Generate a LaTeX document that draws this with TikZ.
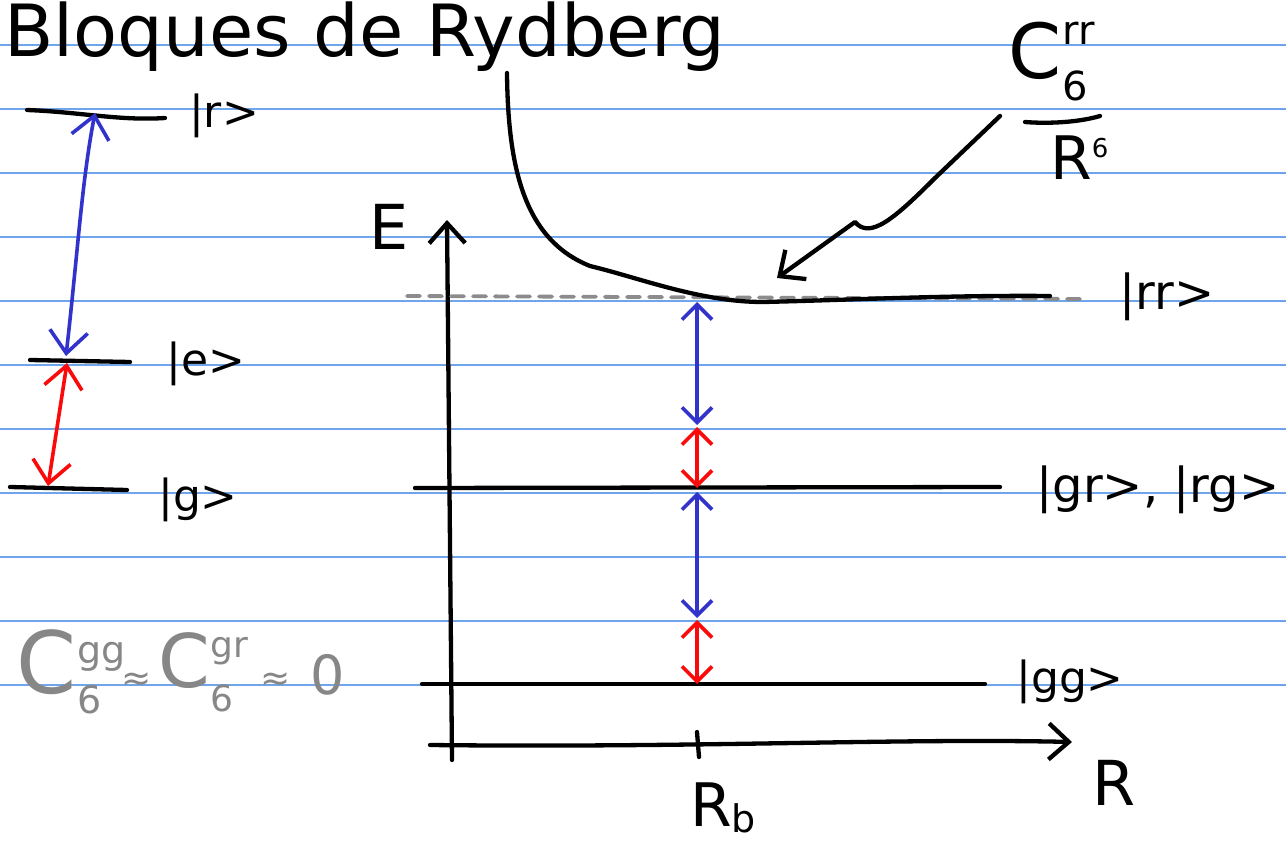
\documentclass[tikz,border=0pt]{standalone}
\usepackage{fontspec}
\setmainfont{DejaVu Sans}
\usetikzlibrary{arrows.meta}
\definecolor{rulecol}{RGB}{110,165,235}
\definecolor{penblue}{RGB}{50,50,205}
\definecolor{penred}{RGB}{250,10,10}
\definecolor{pengray}{RGB}{135,135,135}
\definecolor{dashgray}{RGB}{140,140,140}
\newcommand\hw[1]{\fontsize{#1}{#1}\selectfont}
% C with stacked superscript and subscript 6
\newcommand\Csix[5]{{\hw{#1}C}\kern1pt\rlap{\raisebox{#4}{\hw{#2}#3}}\raisebox{#5}{\hw{#2}6}}
\begin{document}
\begin{tikzpicture}[x=1pt,y=-1pt,
  ruling/.style={rulecol,line width=1.5pt},
  ink/.style={line width=4.3pt,line cap=round,line join=round},
  cblue/.style={penblue,line width=3.6pt,line cap=round,line join=round},
  cred/.style={penred,line width=3.6pt,line cap=round,line join=round},
  dbl/.style={arrows={Straight Barb[length=15pt,width=30pt]-Straight Barb[length=15pt,width=30pt]}},
  bigdbl/.style={arrows={Straight Barb[length=22pt,width=38pt]-Straight Barb[length=22pt,width=38pt]}},
  tipend/.style={arrows={-Straight Barb[length=20pt,width=36pt]}},
  txt/.style={inner sep=0pt,text=black},
  gtxt/.style={inner sep=0pt,text=pengray}
]
\useasboundingbox (0,0) rectangle (1286,845);
\fill[white] (0,0) rectangle (1286,845);
% notebook ruling
\foreach \yy in {45,109,173,237,301,365,429,493,557,621,685}
  \draw[ruling] (0,\yy) -- (1286,\yy);

% title
\node[txt,anchor=base west] (title) at (4,57) {\hw{72}Bloques de Rydberg};

% ---------- left: single-atom levels ----------
\coordinate (rL) at (27,110); \coordinate (rR) at (165,118);
\coordinate (eL) at (30,360); \coordinate (eR) at (130,362);
\coordinate (gL) at (10,487); \coordinate (gR) at (127,490);
\draw[ink] (rL) .. controls (80,112) and (120,121) .. (rR);
\draw[ink] (eL) -- (eR);
\draw[ink] (gL) -- (gR);
\coordinate (rTop) at (95,113);
\coordinate (eTop) at (66,356);
\coordinate (eBot) at (67,363);
\coordinate (gBot) at (48,486);
\draw[cblue,bigdbl] (eTop) .. controls (78,250) and (82,180) .. (rTop);
\draw[cred,bigdbl] (eBot) -- (gBot);
\node[txt] (lr) at (224,116) {\hw{44}|r>};
\node[txt] (le) at (206,364) {\hw{44}|e>};
\node[txt] (lg) at (198,500) {\hw{44}|g>};

% gray relation
\node[gtxt,anchor=west] (gc1) at (16,672) {\Csix{86}{38}{gg}{30pt}{-20pt}};
\node[gtxt] (gap1) at (137,682) {\hw{36}≈};
\node[gtxt,anchor=west] (gc2) at (158,672) {\Csix{74}{36}{gr}{30pt}{-24pt}};
\node[gtxt] (gap2) at (276,682) {\hw{36}≈};
\node[gtxt] (gzero) at (328,675) {\hw{54}0};

% ---------- right: two-atom energy diagram ----------
\coordinate (Ebot) at (452,760);
\coordinate (Etop) at (447,220);
\coordinate (Rleft) at (430,745);
\coordinate (Rright) at (1072,742);
\draw[ink,tipend] (Ebot) -- (Etop);
\draw[ink,tipend] (Rleft) .. controls (700,748) and (900,738) .. (Rright);
\coordinate (tk1) at (697,732); \coordinate (tk2) at (699,757);
\draw[ink] (tk1) -- (tk2);
\node[txt] (Elab) at (389,227) {\hw{62}E};
\node[txt] (Rlab) at (1114,783) {\hw{62}R};
\node[txt,anchor=base west] (Rblab) at (690,826) {\hw{60}R\raisebox{-6pt}{\hw{38}b}};

% levels
\coordinate (ggL) at (422,684); \coordinate (ggR) at (985,684);
\coordinate (grL) at (415,488); \coordinate (grR) at (1000,487);
\coordinate (rrL) at (407,296); \coordinate (rrR) at (1085,299);
\draw[ink] (ggL) -- (ggR);
\draw[ink] (grL) -- (grR);
\draw[dashgray,line width=3.8pt,dash pattern=on 13pt off 9pt,line cap=round] (rrL) -- (rrR);
\coordinate (cvA) at (507,73);
\coordinate (cvB) at (590,266);
\coordinate (cvC) at (763,302);
\coordinate (cvD) at (1050,296);
\draw[ink] (cvA) .. controls (508,170) and (525,240) .. (cvB)
  .. controls (640,278) and (700,302) .. (cvC)
  .. controls (850,300) and (950,295) .. (cvD);
\node[txt] (lrr) at (1167,297) {\hw{48}|rr>};
\node[txt] (lgr) at (1158,490) {\hw{48}|gr>, |rg>};
\node[txt] (lgg) at (1070,682) {\hw{44}|gg>};

% transitions at R_b
\coordinate (a1) at (697,302); \coordinate (a2) at (697,425);
\coordinate (a3) at (697,427); \coordinate (a4) at (697,488);
\coordinate (a5) at (697,492); \coordinate (a6) at (697,618);
\coordinate (a7) at (697,620); \coordinate (a8) at (697,684);
\draw[cblue,dbl] (a1) -- (a2);
\draw[cred,dbl] (a3) -- (a4);
\draw[cblue,dbl] (a5) -- (a6);
\draw[cred,dbl] (a7) -- (a8);

% C6^rr / R^6 label with pointer
\node[txt,anchor=west] (fc) at (1008,62) {\Csix{76}{40}{rr}{34pt}{-22pt}};
\coordinate (barL) at (1025,122); \coordinate (barR) at (1100,116);
\draw[ink] (barL) .. controls (1050,124) and (1080,122) .. (barR);
\node[txt,anchor=west] (fR) at (1050,158) {{\hw{60}R}\raisebox{22pt}{\hw{26}6}};
\coordinate (pS) at (1000,116);
\coordinate (pE) at (777,278);
\draw[ink,tipend] (pS) -- (935,178) .. controls (895,218) and (870,240) .. (855,222) -- (pE);
\end{tikzpicture}
\end{document}
